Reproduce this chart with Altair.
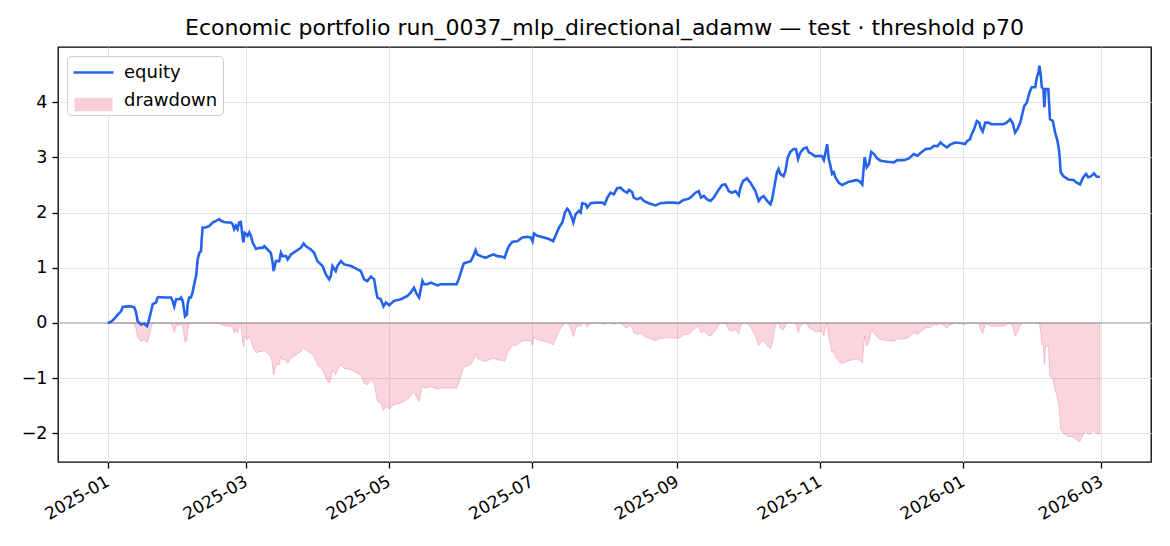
import altair as alt
import pandas as pd

# ---- data (day offset from 2025-01-01, equity value) ----
days = [
    0, 1.4, 2.9, 4.3, 5.7, 6.4, 8.5, 9.9, 11.4, 12.1, 12.8, 14.2, 15.6, 16.8, 17.3,
    18.5, 19.2, 20.6, 21.3, 22.0, 24.2, 27.0, 27.7, 28.4, 29.2, 30.6, 31.3, 32.0,
    32.7, 33.0, 33.8, 34.1, 34.8, 35.5, 36.2, 36.9, 37.7, 38.4, 39.1, 39.8, 40.1,
    40.5, 41.9, 43.4, 44.8, 46.2, 47.6, 48.3, 49.7, 51.2, 52.6, 53.3, 54.0, 54.7,
    55.4, 56.1, 56.8, 57.5, 57.9, 58.5, 59.7, 60.4, 61.1, 61.8, 63.3, 64.7, 66.1,
    66.8, 68.2, 69.6, 70.3, 70.8, 71.8, 73.2, 73.9, 74.6, 76.1, 76.8, 78.2, 80.3,
    82.4, 83.6, 84.6, 86.7, 88.1, 89.5, 91.7, 93.1, 94.5, 95.2, 95.9, 97.3, 98.0,
    99.5, 100.9, 103.8, 106.6, 108.0, 109.4, 110.8, 112.3, 113.7, 114.4, 115.1,
    116.5, 117.7, 118.7, 120.1, 122.2, 125.1, 127.9, 129.3, 130.7, 131.9, 132.9,
    134.3, 135.0, 136.4, 137.9,
    140.7, 142.1, 145.0, 148.9, 150.0, 151.3, 152.0, 153.5, 154.9, 156.0, 157.0,
    157.7, 159.2, 161.3, 162.7, 164.6, 166.3, 168.4, 169.4, 170.3, 171.2, 172.7,
    174.8, 176.9, 179.1, 180.5, 181.3, 181.9, 183.3, 186.1, 188.3, 190.1, 191.1,
    192.6, 194.0, 195.1, 196.1, 196.9, 197.8, 198.7, 199.7, 201.1, 201.8, 202.5,
    204.0, 204.6, 206.1, 208.2, 211.1, 212.1, 213.2, 214.6, 216.0,
    217.4, 218.8, 220.3, 221.7, 222.4, 223.8, 224.5, 226.0, 227.4, 228.8, 230.9,
    233.8, 235.9, 238.7, 241.6, 243.7, 245.7, 247.9, 249.4, 250.8, 252.2, 253.2,
    254.4, 255.8, 257.2, 258.6, 260.8, 262.2, 263.6, 265.0, 266.4, 267.9, 269.3,
    270.0, 271.1, 272.8, 274.3, 276.4, 277.8, 278.8, 279.9, 281.4, 282.8, 283.5,
    284.2, 284.9, 285.6, 286.3, 287.0, 288.4, 289.2, 290.2, 291.3, 292.7, 293.7,
    294.6, 295.6, 297.0, 298.2, 299.2, 300.6, 302.0, 303.4, 304.8, 305.6, 306.3,
    307.0, 307.7, 308.4, 309.1, 309.8, 310.6, 312.0, 313.4, 314.8, 316.3, 317.7,
    319.6, 321.0, 322.0, 323.0, 323.9, 324.9, 325.8, 327.0, 328.4, 329.8, 332.7,
    335.5, 336.9, 339.8, 341.9, 344.0, 345.5, 346.9, 349.0, 351.2, 352.6, 354.0,
    355.4, 356.1,
    358.1, 359.5, 361.6, 363.8, 365.9, 366.6, 368.0, 368.7, 369.7, 370.9, 371.9,
    372.6, 373.4, 374.5, 375.8, 377.2, 379.4, 382.2, 383.6, 385.1, 386.2, 387.2,
    388.2, 389.4, 390.1, 391.1, 392.2, 393.4, 394.3, 395.8, 396.5, 397.2, 397.6,
    398.2, 398.6, 399.3, 399.7, 400.2, 401.4, 402.1, 403.3, 404.3, 405.3, 406.0,
    406.7, 407.8, 409.9, 412.1, 413.5, 414.9, 416.3, 417.5, 418.4, 419.4, 420.9,
    422.0, 423.4,
]
equity = [
    0.00, 0.02, 0.08, 0.15, 0.21, 0.29, 0.30, 0.30, 0.28, 0.19, 0.03, -0.03, -0.01, -0.06, 0.00,
    0.21, 0.34, 0.37, 0.46, 0.47, 0.46, 0.46, 0.40, 0.30, 0.43, 0.43, 0.46, 0.40,
    0.21, 0.12, 0.15, 0.34, 0.46, 0.46, 0.55, 0.70, 0.85, 1.15, 1.27, 1.30, 1.51,
    1.73, 1.73, 1.76, 1.82, 1.85, 1.88, 1.85, 1.83, 1.82, 1.82, 1.79, 1.70, 1.76,
    1.70, 1.82, 1.83, 1.58, 1.46, 1.63, 1.58, 1.64, 1.58, 1.46, 1.34, 1.36, 1.36,
    1.39, 1.33, 1.27, 1.12, 0.94, 1.12, 1.12, 1.27, 1.21, 1.21, 1.15, 1.24, 1.30,
    1.36, 1.44, 1.39, 1.33, 1.27, 1.12, 1.03, 0.88, 0.79, 0.85, 1.03, 0.94, 1.03,
    1.12, 1.06, 1.03, 0.97, 0.94, 0.79, 0.76, 0.84, 0.79, 0.61, 0.46,
    0.43, 0.30, 0.37, 0.32, 0.40, 0.43, 0.49, 0.55, 0.64, 0.52, 0.46,
    0.76, 0.70, 0.70, 0.73,
    0.68, 0.70, 0.70, 0.70, 0.82, 1.00, 1.08, 1.10, 1.12, 1.21, 1.32,
    1.24, 1.21, 1.18, 1.21, 1.24, 1.21, 1.20, 1.18, 1.30, 1.39, 1.47,
    1.48, 1.55, 1.56, 1.55, 1.48, 1.62, 1.58, 1.55, 1.52, 1.48, 1.58,
    1.73, 1.82, 2.00, 2.07, 2.03, 1.94, 1.82, 1.97, 2.03, 2.00, 2.17,
    2.15, 2.09, 2.17, 2.18, 2.18, 2.15, 2.27, 2.36, 2.33,
    2.44, 2.45, 2.39, 2.36, 2.41, 2.37, 2.27, 2.24, 2.27, 2.21, 2.17,
    2.13, 2.17, 2.18, 2.18, 2.17, 2.23, 2.25, 2.30, 2.36, 2.39, 2.27,
    2.30, 2.24, 2.21, 2.27, 2.42, 2.50, 2.51, 2.39, 2.36, 2.39, 2.31,
    2.45, 2.57, 2.62, 2.54, 2.39, 2.21, 2.27, 2.30, 2.21, 2.15, 2.24,
    2.40, 2.57, 2.73, 2.79, 2.70, 2.66, 2.75, 3.00, 3.10, 3.15, 3.15,
    2.97, 3.09, 3.16, 3.18, 3.09, 3.06, 3.02, 3.03, 3.02, 2.95, 3.09,
    3.24, 2.97, 2.85, 2.70, 2.73, 2.63, 2.54, 2.50, 2.53, 2.56, 2.57,
    2.59, 2.56, 2.51, 3.00, 2.82, 2.88, 3.10, 3.06, 2.98, 2.94, 2.92,
    2.91, 2.95, 2.95, 2.98, 3.06, 3.03, 3.08, 3.15, 3.16, 3.21, 3.20,
    3.27, 3.24,
    3.18, 3.23, 3.27, 3.26, 3.24, 3.29, 3.33, 3.42, 3.51, 3.66, 3.63,
    3.53, 3.47, 3.63, 3.63, 3.60, 3.60, 3.60, 3.63, 3.69, 3.62, 3.45,
    3.51, 3.63, 3.75, 3.93, 3.99, 4.18, 4.27, 4.27, 4.45, 4.54, 4.66,
    4.48, 4.27, 4.24, 3.91, 4.24, 4.24, 3.69, 3.66, 3.45, 3.30, 3.12,
    2.73, 2.66, 2.60, 2.59, 2.54, 2.51, 2.64, 2.70, 2.64, 2.65, 2.71,
    2.65, 2.65,
]

series_names = ["equity", "drawdown"]
EQ_COLOR = "#2563eb"
DD_COLOR = "#dc143c"
y_ticks = [-2, -1, 0, 1, 2, 3, 4]
x_tick_months = [(2025, 1), (2025, 3), (2025, 5), (2025, 7), (2025, 9), (2025, 11), (2026, 1), (2026, 3)]
zero_line = [0]

TITLE = "Economic portfolio run_0037_mlp_directional_adamw — test · threshold p70"
FONT = "DejaVu Sans"

start = pd.Timestamp("2025-01-01")
df = pd.DataFrame({
    "date": [start + pd.Timedelta(days=d) for d in days],
    "equity": equity,
})

x_scale = alt.Scale(
    domain=[alt.DateTime(year=2024, month=12, date=10, hours=19),
            alt.DateTime(year=2026, month=3, date=22, hours=5)],
    nice=False,
)
y_scale = alt.Scale(domain=[-2.52, 5.0], nice=False, zero=False)

x_axis = alt.Axis(
    values=[alt.DateTime(year=y, month=m, date=1) for y, m in x_tick_months],
    format="%Y-%m", labelAngle=330, labelAlign="right", labelBaseline="top",
    labelFontSize=17, labelFont=FONT, labelColor="black", labelPadding=5,
    labelOffset=-4, labelOverlap=False, labelBound=False,
    tickColor="black", tickSize=6, tickWidth=1.3,
    domain=False, grid=True, gridColor="#e4e4e4", gridWidth=1, title=None,
)
y_axis = alt.Axis(
    values=y_ticks, format="d", labelFontSize=17.5, labelFont=FONT, labelColor="black",
    labelPadding=5, tickColor="black", tickSize=6, tickWidth=1.3, domain=False,
    grid=True, gridColor="#e4e4e4", gridWidth=1, title=None,
)

LEG = dict(
    title=None, orient="none", legendX=9, legendY=9,
    labelFont=FONT, labelFontSize=18, labelColor="black",
    padding=5, rowPadding=7, symbolSize=400, symbolOffset=10, labelOffset=19,
    symbolStrokeWidth=2.6,
)
# legend 1: the line (stroke channel); carries the box and both labels
leg_line = alt.Legend(symbolType="M-2,0L2,0", fillColor="white", strokeColor="#cccccc",
                      cornerRadius=4, zindex=1, **LEG)
# legend 2: the area patch (fill channel); no labels of its own, drawn over legend 1
leg_area = alt.Legend(symbolType="M-1.9,-0.68L1.9,-0.68L1.9,0.68L-1.9,0.68Z",
                      symbolStrokeColor="transparent", symbolOpacity=0.2,
                      labelExpr="''", zindex=2, **LEG)

x_enc = alt.X("date:T", scale=x_scale, axis=x_axis, title=None)

area = (
    alt.Chart(df)
    .transform_window(runmax="max(equity)", frame=[None, 0], sort=[alt.SortField("date")])
    .transform_calculate(dd="datum.equity - datum.runmax", series="'drawdown'")
    .mark_area(fillOpacity=0.18, stroke=DD_COLOR, strokeOpacity=0.2, strokeWidth=1)
    .encode(
        x=x_enc,
        y=alt.Y("dd:Q", scale=y_scale, axis=y_axis, title=None),
        y2=alt.datum(0),
        fill=alt.Fill("series:N", scale=alt.Scale(domain=series_names,
                                                  range=["transparent", DD_COLOR]),
                      legend=leg_area),
    )
)

rule = (
    alt.Chart(pd.DataFrame({"y": zero_line}))
    .mark_rule(color="#8a90a6", strokeWidth=1, opacity=0.85)
    .encode(y=alt.Y("y:Q", scale=y_scale, axis=y_axis, title=None))
)

line = (
    alt.Chart(df)
    .transform_calculate(series="'equity'")
    .mark_line(strokeWidth=2.6)
    .encode(
        x=x_enc,
        y=alt.Y("equity:Q", scale=y_scale, axis=y_axis, title=None),
        stroke=alt.Stroke("series:N", scale=alt.Scale(domain=series_names,
                                                      range=[EQ_COLOR, "transparent"]),
                          legend=leg_line),
    )
)

chart = (
    alt.layer(area, rule, line)
    .resolve_scale(fill="independent", stroke="independent")
    .properties(
        width=1093, height=415,
        background="white",
        autosize=alt.AutoSizeParams(type="none"),
        padding={"left": 50, "top": 39, "right": 10, "bottom": 70},
        title=alt.TitleParams(TITLE, font=FONT, fontSize=22, fontWeight="normal",
                              color="black", anchor="middle", offset=7),
    )
    .configure_view(stroke="black", strokeWidth=1.3)
)

chart.save("out.html", embed_options={"renderer": "svg", "actions": False})
